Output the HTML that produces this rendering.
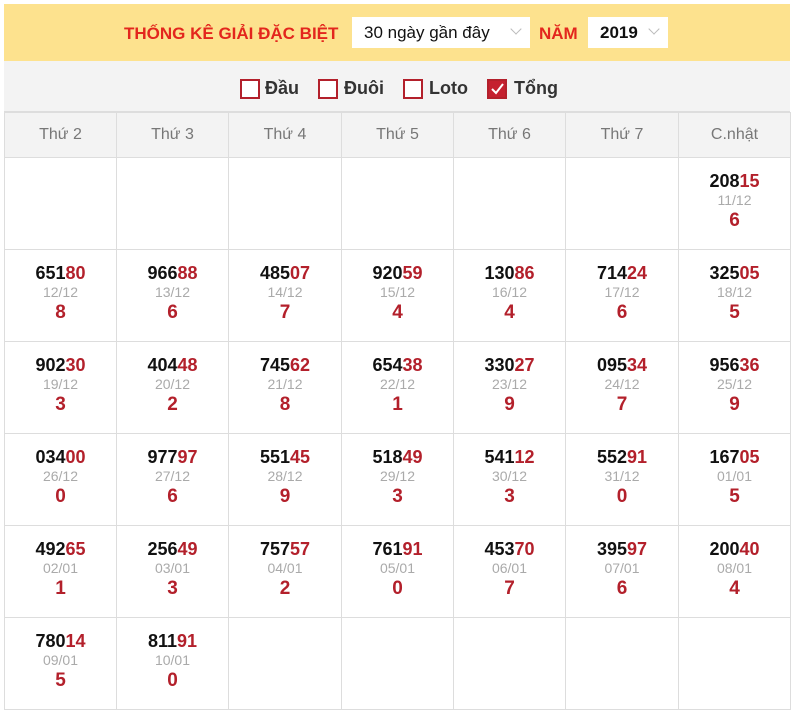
<!DOCTYPE html>
<html><head><meta charset="utf-8"><style>
body{margin:0;background:#fff;font-family:"Liberation Sans",Arial,sans-serif;}
#w{position:absolute;left:4px;top:4px;width:786px;height:706px;}
.top{position:absolute;left:0;top:0;width:786px;height:57px;background:#fde28e;}
.t{position:absolute;top:20px;font-weight:bold;color:#e3261d;font-size:17px;}
.sel{position:absolute;top:13px;height:31px;background:#fff;font-size:17px;line-height:31px;padding-left:12px;box-sizing:border-box;color:#111;}
.sel i{position:absolute;right:10px;top:8px;width:7px;height:7px;border-right:1.5px solid #bbb;border-bottom:1.5px solid #bbb;transform:rotate(45deg);}
.fb{position:absolute;left:0;top:57px;width:786px;height:50px;background:#f3f3f3;border-bottom:2px solid #ddd;}
.cb{position:absolute;top:18px;width:16px;height:16px;border:2px solid #b3202b;background:#fff;}
.cb.on{background:#c5202f;}
.cl{position:absolute;top:17px;font-size:18px;font-weight:bold;color:#333;}
table{position:absolute;left:0;top:108px;border-collapse:collapse;table-layout:fixed;width:786px;}
td,th{border:1px solid #ddd;text-align:center;padding:0;}
th{height:44px;background:#f3f3f3;font-weight:normal;color:#777;font-size:16px;}
td{height:91px;vertical-align:top;}
.n{font-size:18px;font-weight:bold;color:#111;margin-top:13px;line-height:20px;}
.n b{color:#b3202b;}
.d{font-size:14px;color:#aaa;line-height:18px;}
.s{font-size:19px;font-weight:bold;color:#b3202b;line-height:24px;}
</style></head><body><div id="w">
<div class="top">
<div class="t" style="left:120px">THỐNG KÊ GIẢI ĐẶC BIỆT</div>
<div class="sel" style="left:348px;width:178px">30 ngày gần đây<i></i></div>
<div class="t" style="left:535px">NĂM</div>
<div class="sel" style="left:584px;width:80px;font-weight:bold">2019<i></i></div>
</div>
<div class="fb">
<div class="cb" style="left:236px"></div><div class="cl" style="left:261px">Đầu</div>
<div class="cb" style="left:314px"></div><div class="cl" style="left:340px">Đuôi</div>
<div class="cb" style="left:399px"></div><div class="cl" style="left:425px">Loto</div>
<div class="cb on" style="left:483px"><svg width="16" height="16" style="position:absolute;left:0;top:0"><path d="M3 8l4 4 7-9" stroke="#fff" stroke-width="2" fill="none"/></svg></div><div class="cl" style="left:510px">Tổng</div>
</div>
<table>
<colgroup><col style="width:112px"><col style="width:112px"><col style="width:113px"><col style="width:112px"><col style="width:112px"><col style="width:113px"><col style="width:112px"></colgroup>
<tr><th>Thứ 2</th><th>Thứ 3</th><th>Thứ 4</th><th>Thứ 5</th><th>Thứ 6</th><th>Thứ 7</th><th>C.nhật</th></tr>
<tr><td></td><td></td><td></td><td></td><td></td><td></td><td><div class="n">208<b>15</b></div><div class="d">11/12</div><div class="s">6</div></td></tr>
<tr>
<td><div class="n">651<b>80</b></div><div class="d">12/12</div><div class="s">8</div></td>
<td><div class="n">966<b>88</b></div><div class="d">13/12</div><div class="s">6</div></td>
<td><div class="n">485<b>07</b></div><div class="d">14/12</div><div class="s">7</div></td>
<td><div class="n">920<b>59</b></div><div class="d">15/12</div><div class="s">4</div></td>
<td><div class="n">130<b>86</b></div><div class="d">16/12</div><div class="s">4</div></td>
<td><div class="n">714<b>24</b></div><div class="d">17/12</div><div class="s">6</div></td>
<td><div class="n">325<b>05</b></div><div class="d">18/12</div><div class="s">5</div></td></tr>
<tr>
<td><div class="n">902<b>30</b></div><div class="d">19/12</div><div class="s">3</div></td>
<td><div class="n">404<b>48</b></div><div class="d">20/12</div><div class="s">2</div></td>
<td><div class="n">745<b>62</b></div><div class="d">21/12</div><div class="s">8</div></td>
<td><div class="n">654<b>38</b></div><div class="d">22/12</div><div class="s">1</div></td>
<td><div class="n">330<b>27</b></div><div class="d">23/12</div><div class="s">9</div></td>
<td><div class="n">095<b>34</b></div><div class="d">24/12</div><div class="s">7</div></td>
<td><div class="n">956<b>36</b></div><div class="d">25/12</div><div class="s">9</div></td></tr>
<tr>
<td><div class="n">034<b>00</b></div><div class="d">26/12</div><div class="s">0</div></td>
<td><div class="n">977<b>97</b></div><div class="d">27/12</div><div class="s">6</div></td>
<td><div class="n">551<b>45</b></div><div class="d">28/12</div><div class="s">9</div></td>
<td><div class="n">518<b>49</b></div><div class="d">29/12</div><div class="s">3</div></td>
<td><div class="n">541<b>12</b></div><div class="d">30/12</div><div class="s">3</div></td>
<td><div class="n">552<b>91</b></div><div class="d">31/12</div><div class="s">0</div></td>
<td><div class="n">167<b>05</b></div><div class="d">01/01</div><div class="s">5</div></td></tr>
<tr>
<td><div class="n">492<b>65</b></div><div class="d">02/01</div><div class="s">1</div></td>
<td><div class="n">256<b>49</b></div><div class="d">03/01</div><div class="s">3</div></td>
<td><div class="n">757<b>57</b></div><div class="d">04/01</div><div class="s">2</div></td>
<td><div class="n">761<b>91</b></div><div class="d">05/01</div><div class="s">0</div></td>
<td><div class="n">453<b>70</b></div><div class="d">06/01</div><div class="s">7</div></td>
<td><div class="n">395<b>97</b></div><div class="d">07/01</div><div class="s">6</div></td>
<td><div class="n">200<b>40</b></div><div class="d">08/01</div><div class="s">4</div></td></tr>
<tr>
<td><div class="n">780<b>14</b></div><div class="d">09/01</div><div class="s">5</div></td>
<td><div class="n">811<b>91</b></div><div class="d">10/01</div><div class="s">0</div></td>
<td></td><td></td><td></td><td></td><td></td></tr>
</table>
</div></body></html>
